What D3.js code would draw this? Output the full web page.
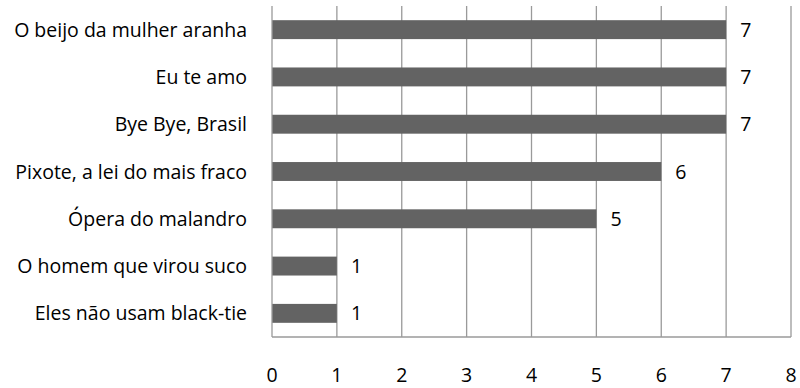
<!DOCTYPE html>
<html>
<head>
<meta charset="utf-8">
<script src="https://cdn.jsdelivr.net/npm/d3@7"></script>
<style>
  html, body { margin: 0; padding: 0; background: #fff; }
  svg { display: block; }
  text { font-family: "Open Sans", "Noto Sans", sans-serif; fill: #000; }
</style>
</head>
<body>
<svg id="chart" width="800" height="388"></svg>
<script>
const categories = [
  "O beijo da mulher aranha",
  "Eu te amo",
  "Bye Bye, Brasil",
  "Pixote, a lei do mais fraco",
  "Ópera do malandro",
  "O homem que virou suco",
  "Eles não usam black-tie"
];
const values = [7, 7, 7, 6, 5, 1, 1];
const xTicks = [0, 1, 2, 3, 4, 5, 6, 7, 8];

(function () {
const svg = d3.select("#chart");
const mLeft = 272, mRight = 791, mTop = 6, mBottom = 337;
const fs = 19.5;

const x = d3.scaleLinear().domain([0, 8]).range([mLeft, mRight]);
const y = d3.scaleBand().domain(categories).range([mTop, mBottom])
  .paddingInner(0.6).paddingOuter(0.3);

// gridlines
svg.append("g").selectAll("line").data(xTicks.slice(1)).join("line")
  .attr("x1", d => x(d)).attr("x2", d => x(d))
  .attr("y1", mTop).attr("y2", mBottom)
  .attr("stroke", "#9a9a9a").attr("stroke-width", 1.3);

// bars
svg.append("g").selectAll("rect").data(values).join("rect")
  .attr("x", x(0))
  .attr("y", (d, i) => y(categories[i]))
  .attr("width", d => x(d) - x(0))
  .attr("height", y.bandwidth())
  .attr("fill", "#636363");

// axes lines
svg.append("line").attr("x1", x(0)).attr("x2", x(0)).attr("y1", mTop).attr("y2", mBottom)
  .attr("stroke", "#9a9a9a").attr("stroke-width", 1.3);
svg.append("line").attr("x1", x(0)).attr("x2", x(8)).attr("y1", mBottom).attr("y2", mBottom)
  .attr("stroke", "#9a9a9a").attr("stroke-width", 1.3);

// category labels
svg.append("g").selectAll("text").data(categories).join("text")
  .attr("x", 247)
  .attr("y", d => y(d) + y.bandwidth() / 2)
  .attr("dy", "0.36em")
  .attr("text-anchor", "end")
  .style("font-size", fs + "px")
  .text(d => d);

// value labels
svg.append("g").selectAll("text").data(values).join("text")
  .attr("x", (d) => x(d) + 14)
  .attr("y", (d, i) => y(categories[i]) + y.bandwidth() / 2)
  .attr("dy", "0.36em")
  .style("font-size", fs + "px")
  .text(d => d);

// x tick labels
svg.append("g").selectAll("text").data(xTicks).join("text")
  .attr("x", d => x(d))
  .attr("y", 375)
  .attr("dy", "0.36em")
  .attr("text-anchor", "middle")
  .style("font-size", fs + "px")
  .text(d => d);
})();
</script>
</body>
</html>
